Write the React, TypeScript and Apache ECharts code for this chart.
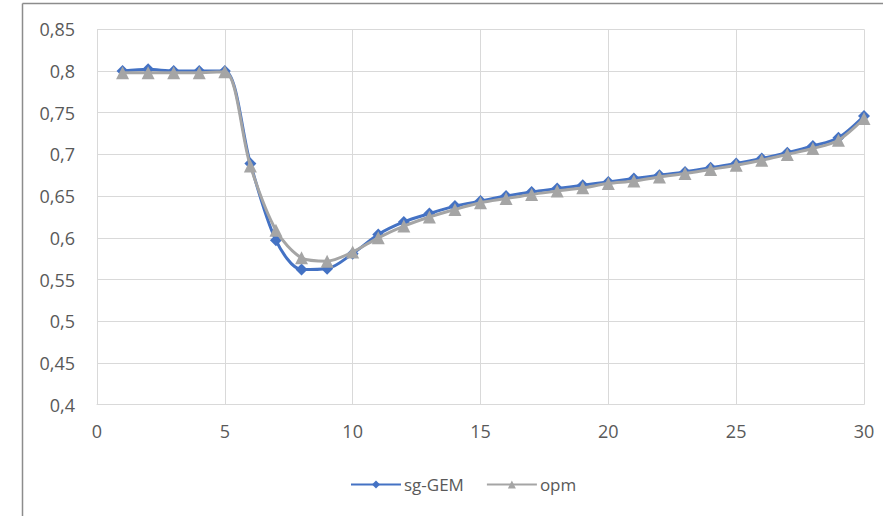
import React, { useEffect, useRef } from "react";
import * as echarts from "echarts";

const xValues = [1, 2, 3, 4, 5, 6, 7, 8, 9, 10, 11, 12, 13, 14, 15, 16, 17, 18, 19, 20, 21, 22, 23, 24, 25, 26, 27, 28, 29, 30];
const sgGem = [0.8, 0.802, 0.8, 0.8, 0.8, 0.689, 0.597, 0.562, 0.563, 0.581, 0.604, 0.619, 0.629, 0.638, 0.644, 0.65, 0.655, 0.659, 0.663, 0.667, 0.671, 0.675, 0.679, 0.684, 0.689, 0.695, 0.702, 0.71, 0.72, 0.746];
const opm = [0.798, 0.798, 0.798, 0.798, 0.799, 0.686, 0.609, 0.576, 0.572, 0.583, 0.6, 0.614, 0.625, 0.634, 0.642, 0.647, 0.652, 0.656, 0.66, 0.665, 0.668, 0.673, 0.677, 0.682, 0.687, 0.693, 0.7, 0.707, 0.717, 0.743];
const seriesNames = ["sg-GEM", "opm"];

export default function App() {
  const ref = useRef<HTMLDivElement>(null);
  useEffect(() => {
    if (!ref.current) return;
    const chart = echarts.init(ref.current, undefined, { renderer: "svg" });
    const font = "'Open Sans', 'Noto Sans', sans-serif";
    chart.setOption({
      animation: false,
      backgroundColor: "#ffffff",
      textStyle: { fontFamily: font },
      graphic: [
        { type: "line", shape: { x1: 22.5, y1: 3.5, x2: 900, y2: 3.5 }, style: { stroke: "#8c8c8c", lineWidth: 1.5 } },
        { type: "line", shape: { x1: 22.5, y1: 3.5, x2: 22.5, y2: 600 }, style: { stroke: "#8c8c8c", lineWidth: 1.5 } },
      ],
      grid: { left: 97, right: 19, top: 29.3, bottom: 111.4, containLabel: false },
      legend: {
        data: seriesNames,
        top: 471,
        left: 345,
        itemWidth: 50,
        itemHeight: 10,
        itemGap: 22,
        textStyle: { color: "#595959", fontSize: 17, fontFamily: font, padding: [0, 0, 0, -2] },
      },
      xAxis: {
        type: "value",
        min: 0,
        max: 30,
        interval: 5,
        axisLine: { show: true, lineStyle: { color: "#d9d9d9", width: 1 } },
        axisTick: { show: false },
        splitLine: { show: true, lineStyle: { color: "#d9d9d9", width: 1 } },
        axisLabel: { color: "#595959", fontSize: 18, margin: 17, fontFamily: font },
      },
      yAxis: {
        type: "value",
        min: 0.4,
        max: 0.85,
        interval: 0.05,
        axisLine: { show: false },
        axisTick: { show: false },
        splitLine: { show: true, lineStyle: { color: "#d9d9d9", width: 1 } },
        axisLabel: {
          color: "#595959",
          fontSize: 18,
          margin: 22,
          fontFamily: font,
          formatter: (v: number) => String(Math.round(v * 100) / 100).replace(".", ","),
        },
      },
      series: [
        {
          name: seriesNames[0],
          type: "line",
          smooth: 0.3,
          data: xValues.map((x, i) => [x, sgGem[i]]),
          symbol: "diamond",
          symbolSize: 12,
          lineStyle: { color: "#4472c4", width: 3 },
          itemStyle: { color: "#4472c4" },
          z: 2,
        },
        {
          name: seriesNames[1],
          type: "line",
          smooth: 0.3,
          data: xValues.map((x, i) => [x, opm[i]]),
          symbol: "triangle",
          symbolSize: 13,
          lineStyle: { color: "#a5a5a5", width: 3 },
          itemStyle: { color: "#a5a5a5" },
          z: 3,
        },
      ],
    });
    return () => chart.dispose();
  }, []);
  return <div ref={ref} style={{ position: "fixed", left: 0, top: 0, width: 883, height: 516 }} />;
}
